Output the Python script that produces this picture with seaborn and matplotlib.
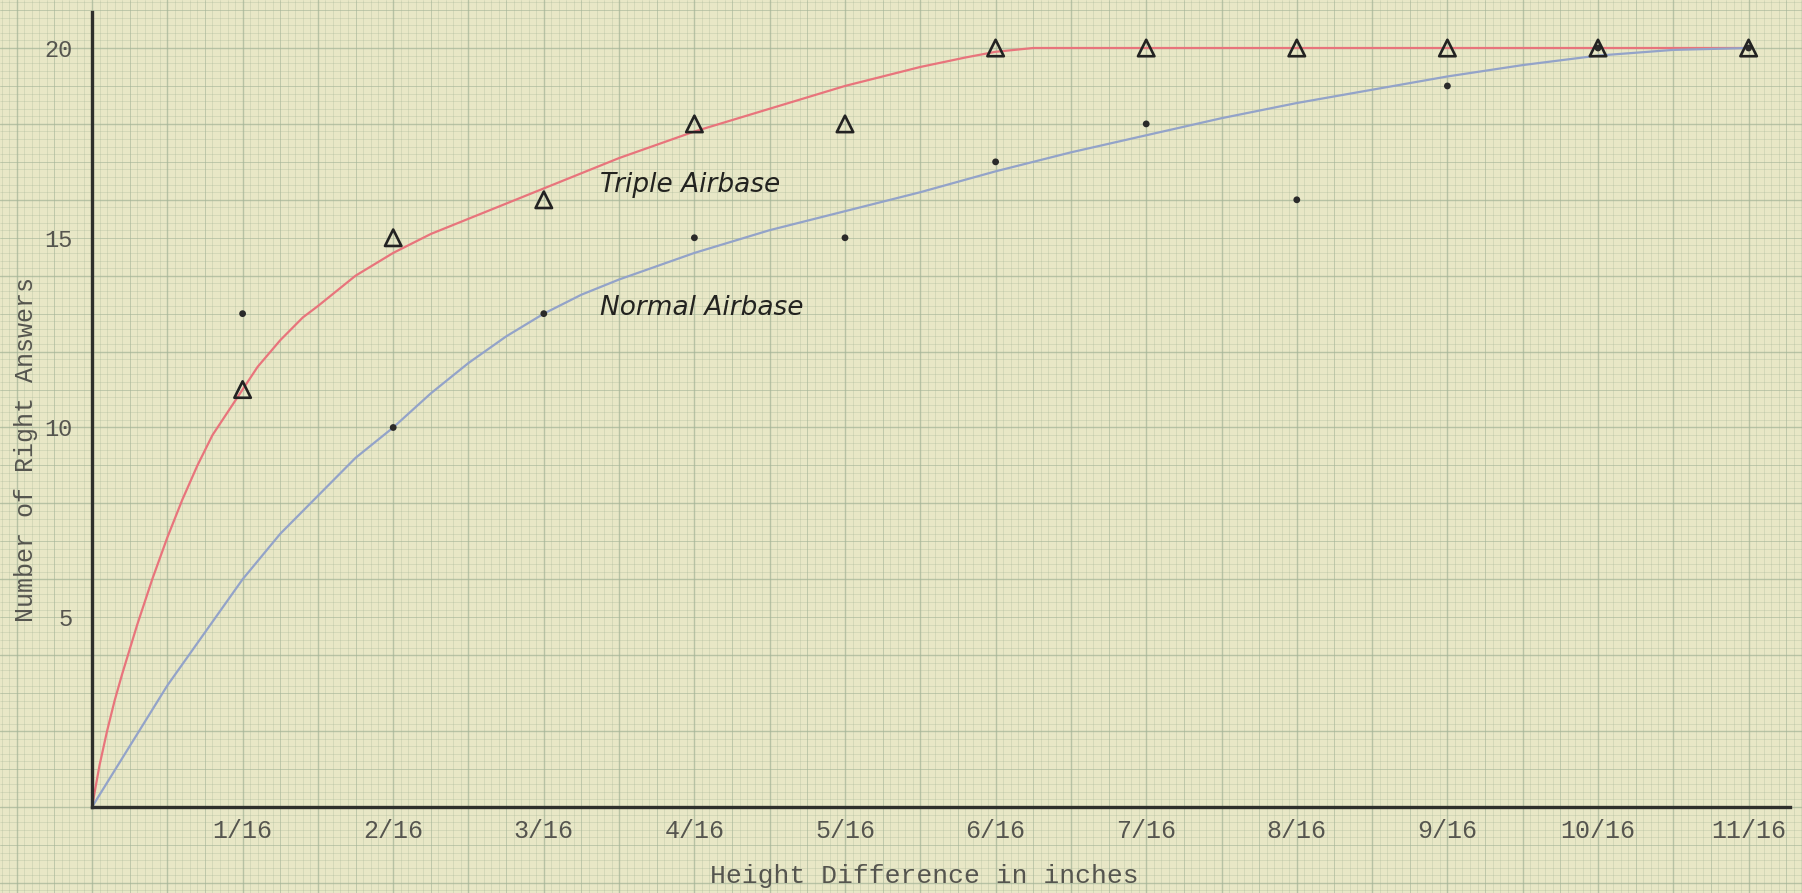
import numpy as np
import pandas as pd
import matplotlib.pyplot as plt
import seaborn as sns

# Measured points (x in sixteenths of an inch)
x_pts = [1, 2, 3, 4, 5, 6, 7, 8, 9, 10, 11]
triple_pts = [11, 15, 16, 18, 18, 20, 20, 20, 20, 20, 20]
normal_pts = [13, 10, 13, 15, 15, 17, 18, 16, 19, 20, 20]

# Hand-drawn fitted curves
triple_curve_x = [0, 0.05, 0.1, 0.15, 0.2, 0.3, 0.4, 0.5, 0.6, 0.7, 0.8, 0.9, 1, 1.1, 1.25, 1.4, 1.5,
                  1.75, 2, 2.25, 2.5, 3, 3.5, 4, 4.5, 5, 5.5, 5.8, 6, 6.25, 7, 8, 9, 10, 11]
triple_curve_y = [0, 1.1, 2.0, 2.8, 3.5, 4.8, 6.0, 7.1, 8.1, 9.0, 9.8, 10.4, 11.0, 11.6, 12.3, 12.9, 13.2,
                  14.0, 14.6, 15.1, 15.5, 16.3, 17.1, 17.8, 18.4, 19.0, 19.5, 19.75, 19.9, 20, 20, 20, 20, 20, 20]
normal_curve_x = [0, 0.25, 0.5, 0.75, 1, 1.25, 1.5, 1.75, 2, 2.25, 2.5, 2.75, 3, 3.25, 3.5, 4, 4.5, 5, 5.5,
                  6, 6.5, 7, 7.5, 8, 8.5, 9, 9.5, 10, 10.5, 11]
normal_curve_y = [0, 1.6, 3.2, 4.6, 6.0, 7.2, 8.2, 9.2, 10.0, 10.9, 11.7, 12.4, 13.0, 13.5, 13.9, 14.6, 15.2,
                  15.7, 16.2, 16.75, 17.25, 17.7, 18.15, 18.55, 18.9, 19.25, 19.55, 19.8, 19.95, 20]

x_ticks = [1, 2, 3, 4, 5, 6, 7, 8, 9, 10, 11]
x_ticklabels = [f"{i}/16" for i in x_ticks]
y_ticks = [5, 10, 15, 20]

PAPER = "#e8e7c6"
GRID = "#a3b396"
INK = "#55554f"

sns.set_theme(style="white")
plt.rcParams['font.family'] = ['Liberation Mono', 'DejaVu Sans Mono']

W, H = 1802, 893
fig = plt.figure(figsize=(W / 100, H / 100), dpi=100, facecolor=PAPER)

# graph paper background in pixel coordinates
bg = fig.add_axes([0, 0, 1, 1], zorder=0)
bg.set_xlim(0, W)
bg.set_ylim(H, 0)
bg.set_facecolor(PAPER)
bg.axis("off")
x0, y0 = 92, 807
cx, cy = 150.6 / 20, 37.95 / 5


def paper_style(k):
    if k % 10 == 0:
        return 1.0, 0.7
    if k % 5 == 0:
        return 0.7, 0.6
    return 0.4, 0.5


for k in range(-20, 260):
    xv = x0 + k * cx
    if 0 <= xv <= W:
        w, a = paper_style(k)
        bg.axvline(xv, color=GRID, lw=w, alpha=a)
for k in range(-20, 130):
    yv = y0 - k * cy
    if 0 <= yv <= H:
        w, a = paper_style(k)
        bg.axhline(yv, color=GRID, lw=w, alpha=a)

ax = fig.add_axes([92 / W, (H - 807) / H, (1790 - 92) / W, (807 - 12) / H], zorder=1)
ax.set_facecolor("none")

curves = pd.concat([
    pd.DataFrame({"x": triple_curve_x, "y": triple_curve_y, "series": "Triple"}),
    pd.DataFrame({"x": normal_curve_x, "y": normal_curve_y, "series": "Normal"}),
])
sns.lineplot(data=curves, x="x", y="y", hue="series", sort=False,
             palette={"Triple": "#e8747c", "Normal": "#93a3c9"},
             linewidth=1.6, legend=False, ax=ax)

pts = pd.DataFrame({"x": x_pts, "triple": triple_pts, "normal": normal_pts})
sns.scatterplot(data=pts, x="x", y="normal", color="#2a2a2a", s=24,
                edgecolor="none", ax=ax, zorder=3)
sns.scatterplot(data=pts, x="x", y="triple", marker="^", s=140,
                facecolor="none", edgecolor="#222222", linewidth=1.9, ax=ax, zorder=4)

ax.set_xlim(0, (1790 - 92) / 150.6)
ax.set_ylim(0, (807 - 12) / 37.95)
ax.set_xticks(x_ticks)
ax.set_xticklabels(x_ticklabels)
ax.set_yticks(y_ticks)
ax.tick_params(axis="x", length=0, labelsize=18, labelcolor=INK, pad=9)
ax.tick_params(axis="y", length=0, labelsize=17, labelcolor=INK, pad=14)
for s in ["top", "right"]:
    ax.spines[s].set_visible(False)
for s in ["left", "bottom"]:
    ax.spines[s].set_color("#2f2f2c")
    ax.spines[s].set_linewidth(2.4)

ax.set_xlabel("Height Difference in inches", fontsize=19, color=INK)
ax.xaxis.set_label_coords(0.49, -0.072)
ax.set_ylabel("Number of Right Answers", fontsize=18, color=INK)
ax.yaxis.set_label_coords(-0.032, 0.45)

ax.text(3.37, 16.4, "Triple Airbase", fontsize=19, style="italic",
        family="DejaVu Sans", color="#232320", va="center", ha="left")
ax.text(3.37, 13.15, "Normal Airbase", fontsize=19, style="italic",
        family="DejaVu Sans", color="#232320", va="center", ha="left")

fig.savefig("out.png", dpi=100, facecolor=PAPER)
